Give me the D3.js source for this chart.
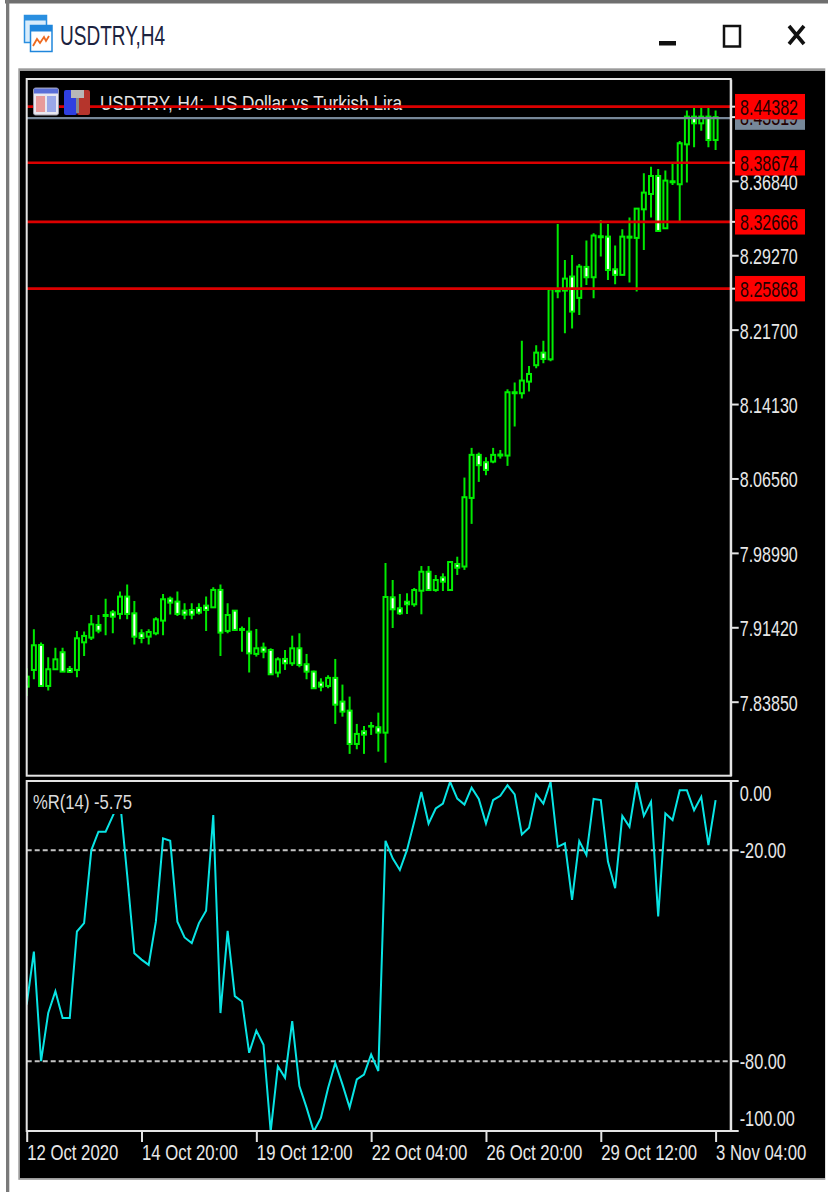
<!DOCTYPE html>
<html lang="en">
    <head>
        <meta charset="utf-8">
        <title>USDTRY,H4</title>
        <script src="https://d3js.org/d3.v7.min.js"></script>
        <style type="text/css">
            body { margin: 0; background: white; }
            svg { display: block; }
            text { font-family: "Liberation Sans", sans-serif; white-space: pre; }
            .axis path, .axis line { stroke: #e4e4e4; stroke-width: 2px; }
            .axis text { font-family: "Liberation Sans", sans-serif; font-size: 22px; fill: #e8e8e8; }
        </style>
    </head>
    <body>
        <script type="text/javascript">

            const opens = [7.8538,7.8708,7.8962,7.8545,7.8715,7.8888,7.8718,7.8708,7.8989,7.9037,7.9166,7.9257,7.9294,7.9278,7.9454,7.9284,7.9081,7.9047,7.9081,7.9210,7.9433,7.9403,7.9311,7.9318,7.9339,7.9362,7.9345,7.9522,7.9105,7.9311,7.9125,7.9098,7.8871,7.8935,7.8911,7.8681,7.8820,7.8776,7.8928,7.8766,7.8691,7.8579,7.8545,7.8627,7.8386,7.8294,7.7955,7.8084,7.8138,7.8125,7.8070,7.9447,7.9335,7.9402,7.9376,7.9514,7.9707,7.9521,7.9650,7.9521,7.9786,7.9760,8.0458,8.0896,8.0821,8.0828,8.0889,8.0889,8.1533,8.1523,8.1641,8.1808,8.1936,8.1868,8.2581,8.2567,8.2710,8.2493,8.2808,8.2703,8.3120,8.3116,8.2784,8.2727,8.3116,8.3103,8.3394,8.3550,8.3733,8.3201,8.3679,8.3649,8.4055,8.4337,8.4269,8.4337,8.4099];
            const highs = [7.8725,7.9122,7.8986,7.8837,7.8935,7.8935,7.8749,7.9105,7.9098,7.9267,7.9267,7.9433,7.9318,7.9505,7.9576,7.9410,7.9122,7.9122,7.9244,7.9481,7.9454,7.9505,7.9386,7.9386,7.9386,7.9454,7.9549,7.9576,7.9386,7.9318,7.9149,7.9244,7.9125,7.8986,7.8928,7.8837,7.8911,7.9057,7.9081,7.8871,7.8701,7.8623,7.8654,7.8820,7.8559,7.8437,7.8159,7.8138,7.8179,7.8274,7.9796,7.9623,7.9481,7.9488,7.9542,7.9765,7.9765,7.9674,7.9691,7.9806,7.9860,8.0665,8.0967,8.0919,8.0872,8.0967,8.0946,8.1563,8.1631,8.2058,8.1801,8.2011,8.2058,8.2580,8.3245,8.2879,8.2930,8.2838,8.3076,8.3150,8.3286,8.3245,8.3025,8.3191,8.3310,8.3405,8.3760,8.3828,8.3805,8.3788,8.3855,8.4089,8.4398,8.4425,8.4425,8.4425,8.4398];
            const lows = [7.8444,7.8613,7.8538,7.8498,7.8708,7.8688,7.8688,7.8633,7.8850,7.9013,7.9081,7.9061,7.9081,7.9223,7.9223,7.8966,7.8979,7.8966,7.9061,7.9061,7.9271,7.9257,7.9223,7.9223,7.9271,7.9105,7.9345,7.8850,7.9081,7.9108,7.8894,7.8681,7.8844,7.8827,7.8657,7.8633,7.8708,7.8749,7.8735,7.8613,7.8515,7.8491,7.8522,7.8159,7.8233,7.7854,7.7901,7.7854,7.8047,7.7877,7.7764,7.9135,7.9267,7.9277,7.9351,7.9274,7.9514,7.9504,7.9511,7.9514,7.9674,7.9726,8.0194,8.0621,8.0689,8.0811,8.0858,8.0784,8.1184,8.1469,8.1540,8.1777,8.1828,8.1848,8.2489,8.2133,8.2181,8.2320,8.2625,8.2489,8.2913,8.2676,8.2632,8.2727,8.2649,8.2557,8.2981,8.3310,8.3174,8.3201,8.3642,8.3266,8.3666,8.4025,8.4194,8.4025,8.3998];
            const closes = [7.8640,7.8959,7.8545,7.8715,7.8816,7.8691,7.8688,7.9030,7.9054,7.9172,7.9108,7.9267,7.9250,7.9454,7.9278,7.9047,7.9033,7.9094,7.9223,7.9427,7.9393,7.9278,7.9271,7.9271,7.9291,7.9318,7.9522,7.9088,7.9267,7.9115,7.9115,7.8877,7.8928,7.8894,7.8664,7.8816,7.8776,7.8928,7.8759,7.8691,7.8522,7.8538,7.8627,7.8355,7.8284,7.7955,7.8057,7.8050,7.8132,7.8071,7.9450,7.9325,7.9284,7.9376,7.9521,7.9707,7.9521,7.9623,7.9606,7.9806,7.9748,8.0465,8.0896,8.0791,8.0743,8.0896,8.0899,8.1533,8.1523,8.1652,8.1719,8.1936,8.1872,8.2580,8.2560,8.2689,8.2354,8.2811,8.2703,8.3127,8.3110,8.2777,8.2727,8.3116,8.3106,8.3401,8.3564,8.3733,8.3174,8.3686,8.3669,8.4066,8.4337,8.4269,8.4337,8.4099,8.4332];
            const wpr = [-63.9,-48.8,-80.0,-66.3,-60.1,-67.7,-67.7,-43.1,-40.7,-20.0,-14.7,-14.7,-10.2,-5.7,-27.0,-49.3,-51.1,-52.6,-40.3,-16.6,-17.3,-40.3,-44.8,-46.4,-40.7,-37.2,-10.0,-66.3,-42.9,-61.5,-63.0,-77.6,-71.3,-75.3,-100,-81.4,-84.7,-68.6,-87.1,-93.2,-100,-96.1,-87.6,-80.5,-86.6,-93.2,-85.2,-83.8,-78.1,-82.8,-17.3,-22.3,-25.6,-19.9,-11.9,-3.4,-12.4,-8.1,-6.7,-0.5,-5.3,-7.0,-2.2,-5.4,-12.4,-5.7,-4.5,-1.5,-4.1,-15.5,-13.6,-4.1,-6.7,-0.5,-19.0,-18.0,-34.1,-17.4,-21.3,-5.4,-5.7,-23.2,-30.8,-10.2,-13.3,-0.7,-10.2,-6.2,-38.8,-9.5,-11.4,-2.9,-2.9,-8.6,-4.8,-18.5,-5.75];

            const priceTicks = [7.8385,7.9142,7.9899,8.0656,8.1413,8.2170,8.2927,8.3684];
            const levels = [8.44382,8.38674,8.32666,8.25868];
            const lastPrice = 8.43319;
            const wprTicks = [0,-20,-80,-100];
            const wprLabels = ["0.00","-20.00","-80.00","-100.00"];
            const wprLevels = [-20,-80];
            const dateTicks = [0,16,32,48,64,80,96];
            const dateLabels = ["12 Oct 2020","14 Oct 20:00","19 Oct 12:00","22 Oct 04:00","26 Oct 20:00","29 Oct 12:00","3 Nov 04:00"];

            const w = 828;
            const h = 1192;
            const left = 26.7;
            const right = 730.7;
            const priceTop = 79;
            const priceBottom = 775.7;
            const wprTop = 781;
            const wprBottom = 1131;

            const svg = d3.select("body").append("svg")
                .attr("width", w)
                .attr("height", h);

            //narrow the glyphs, the source picture is stretched upward
            function squeeze(sel, k) {
                sel.each(function() {
                    d3.select(this)
                        .attr("textLength", this.getComputedTextLength() * k)
                        .attr("lengthAdjust", "spacingAndGlyphs");
                });
            }

            //window frame
            svg.append("rect").attr("x", 5).attr("width", w).attr("height", 3.5).attr("fill", "#6f6f6f");
            svg.append("rect").attr("x", 6).attr("width", 3.3).attr("height", h).attr("fill", "#7a7a7a");
            svg.append("rect").attr("x", 18.3).attr("y", 68.3).attr("width", 807).attr("height", 1111.5).attr("fill", "#9a9a9a");
            svg.append("rect").attr("x", 20).attr("y", 71).attr("width", 805).attr("height", 1107).attr("fill", "black");

            //window icon
            const winIcon = svg.append("g");
            winIcon.append("rect").attr("x", 24.5).attr("y", 15.5).attr("width", 22).attr("height", 27).attr("fill", "#d8ecfb").attr("stroke", "#2a8fe0").attr("stroke-width", 1.5);
            winIcon.append("rect").attr("x", 24.5).attr("y", 15.5).attr("width", 22).attr("height", 5).attr("fill", "#2a8fe0");
            winIcon.append("rect").attr("x", 30.5).attr("y", 25.5).attr("width", 21.5).attr("height", 26).attr("fill", "white").attr("stroke", "#1f86dc").attr("stroke-width", 1.5);
            winIcon.append("rect").attr("x", 30.5).attr("y", 25.5).attr("width", 21.5).attr("height", 6).attr("fill", "#1f86dc");
            winIcon.append("path").attr("d", "M33,46 L37,39 L40,43 L44,37 L46,41 L49,36").attr("fill", "none").attr("stroke", "#ee6a20").attr("stroke-width", 1.8);

            svg.append("text")
                .attr("x", 60).attr("y", 45)
                .attr("font-size", 28).attr("fill", "#1c2340")
                .attr("textLength", 105).attr("lengthAdjust", "spacingAndGlyphs")
                .text("USDTRY,H4");

            //window buttons
            svg.append("rect").attr("x", 659).attr("y", 41).attr("width", 17).attr("height", 4.5).attr("fill", "#111");
            svg.append("rect").attr("x", 724).attr("y", 26).attr("width", 16).attr("height", 20.5).attr("fill", "none").attr("stroke", "#111").attr("stroke-width", 2.5);
            svg.append("path").attr("d", "M789,26 L804,44 M804,26 L789,44").attr("fill", "none").attr("stroke", "#111").attr("stroke-width", 3.6);

            //scales
            const xScale = d3.scaleLinear().domain([0, 96]).range([left, 715.6]);
            const yPrice = d3.scaleLinear().domain([7.76322, 8.47197]).range([priceBottom, priceTop]);
            const yWpr = d3.scaleLinear().domain([0, -100]).range([780, 1131.5]);

            svg.append("clipPath").attr("id", "clipPrice").append("rect")
                .attr("x", left).attr("y", priceTop).attr("width", right - left).attr("height", priceBottom - priceTop);
            svg.append("clipPath").attr("id", "clipWpr").append("rect")
                .attr("x", left).attr("y", wprTop).attr("width", right - left).attr("height", wprBottom - wprTop);

            //chart title and its icons
            svg.append("text")
                .attr("x", 100).attr("y", 110)
                .attr("font-size", 21).attr("fill", "#e4e4e4")
                .attr("textLength", 302).attr("lengthAdjust", "spacingAndGlyphs")
                .text("USDTRY, H4:  US Dollar vs Turkish Lira");

            const gPrice = svg.append("g").attr("clip-path", "url(#clipPrice)");
            const index = d3.range(opens.length);

            //wicks
            gPrice.selectAll(".wick")
                .data(index)
                .join("line")
                .attr("class", "wick")
                .attr("x1", i => xScale(i))
                .attr("x2", i => xScale(i))
                .attr("y1", i => yPrice(highs[i]))
                .attr("y2", i => yPrice(lows[i]))
                .attr("stroke", "#00e800")
                .attr("stroke-width", 2);

            //bodies, white when the bar closed lower
            gPrice.selectAll(".body")
                .data(index)
                .join("rect")
                .attr("class", "body")
                .attr("x", i => xScale(i) - 2)
                .attr("width", 4)
                .attr("y", i => yPrice(Math.max(opens[i], closes[i])))
                .attr("height", i => Math.abs(yPrice(opens[i]) - yPrice(closes[i])))
                .attr("fill", i => closes[i] < opens[i] ? "white" : "black")
                .attr("stroke", "#00f000")
                .attr("stroke-width", 2);

            //last price line and label
            gPrice.append("line")
                .attr("x1", left).attr("x2", right)
                .attr("y1", yPrice(lastPrice) + 1).attr("y2", yPrice(lastPrice) + 1)
                .attr("stroke", "#778899").attr("stroke-width", 2.4);

            //horizontal levels
            gPrice.selectAll(".level")
                .data(levels)
                .join("line")
                .attr("class", "level")
                .attr("x1", left).attr("x2", right)
                .attr("y1", d => yPrice(d)).attr("y2", d => yPrice(d))
                .attr("stroke", "#dc0000").attr("stroke-width", 2.6);

            //icons above the line
            const tableIcon = svg.append("g");
            tableIcon.append("rect").attr("x", 33.5).attr("y", 88).attr("width", 25).attr("height", 27).attr("rx", 2).attr("fill", "#e8e8f0").attr("stroke", "#9a9aa8");
            tableIcon.append("rect").attr("x", 34).attr("y", 88.5).attr("width", 24).attr("height", 5).attr("fill", "#5a6fd8");
            tableIcon.append("rect").attr("x", 36).attr("y", 96).attr("width", 9).attr("height", 16).attr("fill", "#e89a9a");
            tableIcon.append("rect").attr("x", 47).attr("y", 96).attr("width", 9).attr("height", 16).attr("fill", "#9aa8e8");
            svg.append("rect").attr("x", 64).attr("y", 90).attr("width", 13).attr("height", 25).attr("rx", 2).attr("fill", "#2f3fe0");
            svg.append("rect").attr("x", 77).attr("y", 90).attr("width", 13).attr("height", 25).attr("rx", 2).attr("fill", "#b5352c");
            svg.append("rect").attr("x", 71).attr("y", 90).attr("width", 13).attr("height", 8).attr("fill", "#b8b8b8");
            svg.append("rect").attr("x", 76).attr("y", 98).attr("width", 3).attr("height", 15).attr("fill", "#8a8a8a");

            //price axis
            const priceAxis = svg.append("g")
                .attr("class", "axis")
                .attr("transform", "translate(" + right + ",0)")
                .call(d3.axisRight(yPrice)
                    .tickValues(priceTicks)
                    .tickFormat(d3.format(".5f"))
                    .tickSize(8)
                    .tickSizeOuter(0)
                    .tickPadding(1));
            priceAxis.selectAll("text").attr("dy", "0.38em").call(squeeze, 0.73);

            //price tags on the right, with a short tick by each level
            function addTag(value, fill) {
                svg.append("line")
                    .attr("x1", right).attr("x2", 735)
                    .attr("y1", yPrice(value)).attr("y2", yPrice(value))
                    .attr("stroke", "#e4e4e4").attr("stroke-width", 2);
                const tag = svg.append("g").attr("transform", "translate(735," + yPrice(value) + ")");
                tag.append("rect").attr("y", -12.7).attr("width", 70).attr("height", 25.4).attr("fill", fill);
                tag.append("text")
                    .attr("x", 5).attr("y", 8)
                    .attr("font-size", 22).attr("fill", "#200")
                    .text(d3.format(".5f")(value))
                    .call(squeeze, 0.73);
            }
            addTag(lastPrice, "#778899");
            levels.forEach(d => addTag(d, "#ff0000"));

            //%R panel
            const gWpr = svg.append("g").attr("clip-path", "url(#clipWpr)");

            gWpr.selectAll(".wprLevel")
                .data(wprLevels)
                .join("line")
                .attr("class", "wprLevel")
                .attr("x1", left).attr("x2", right)
                .attr("y1", d => yWpr(d)).attr("y2", d => yWpr(d))
                .attr("stroke", "#c4c4c4").attr("stroke-width", 2)
                .attr("stroke-dasharray", "5 3");

            const wprLine = d3.line()
                .x((d, i) => xScale(i))
                .y(d => yWpr(d));

            gWpr.append("path")
                .datum(wpr)
                .attr("d", wprLine)
                .attr("fill", "none")
                .attr("stroke", "#08e4e4")
                .attr("stroke-width", 2);

            //the indicator name sits on a black patch
            svg.append("rect").attr("x", 33).attr("y", 790).attr("width", 100).attr("height", 24).attr("fill", "black");
            svg.append("text")
                .attr("x", 33).attr("y", 809)
                .attr("font-size", 21).attr("fill", "#dcdcdc")
                .attr("textLength", 99).attr("lengthAdjust", "spacingAndGlyphs")
                .text("%R(14) -5.75");

            const wprAxis = svg.append("g")
                .attr("class", "axis")
                .attr("transform", "translate(" + right + ",0)")
                .call(d3.axisRight(d3.scaleLinear().domain([0, -100]).range([wprTop, wprBottom]))
                    .tickValues([])
                    .tickSize(0));

            wprAxis.selectAll(".wprTick")
                .data(wprTicks)
                .join("line")
                .attr("class", "wprTick")
                .attr("x2", 8)
                .attr("y1", d => Math.min(Math.max(yWpr(d), wprTop), wprBottom))
                .attr("y2", d => Math.min(Math.max(yWpr(d), wprTop), wprBottom));

            //end labels are pushed inside the panel
            wprAxis.selectAll(".wprText")
                .data(wprTicks)
                .join("text")
                .attr("class", "wprText")
                .attr("x", 9)
                .attr("y", d => d === 0 ? 800.5 : d === -100 ? 1126 : yWpr(d) + 8)
                .attr("fill", "#e8e8e8")
                .text((d, i) => wprLabels[i])
                .call(squeeze, 0.74);

            //time axis
            const timeAxis = svg.append("g")
                .attr("class", "axis")
                .attr("transform", "translate(0," + wprBottom + ")")
                .call(d3.axisBottom(xScale)
                    .tickValues(dateTicks)
                    .tickFormat((d, i) => dateLabels[i])
                    .tickSize(11)
                    .tickSizeOuter(0)
                    .tickPadding(2));
            timeAxis.select(".domain").attr("d", "M" + left + ",0H" + right);
            timeAxis.selectAll("text").attr("text-anchor", "start").call(squeeze, 0.76);

            //frames
            [[priceTop, priceBottom], [wprTop, wprBottom]].forEach(p => {
                svg.append("rect")
                    .attr("x", left).attr("y", p[0])
                    .attr("width", right - left).attr("height", p[1] - p[0])
                    .attr("fill", "none")
                    .attr("stroke", "#e4e4e4").attr("stroke-width", 2);
            });

        </script>
    </body>
</html>
